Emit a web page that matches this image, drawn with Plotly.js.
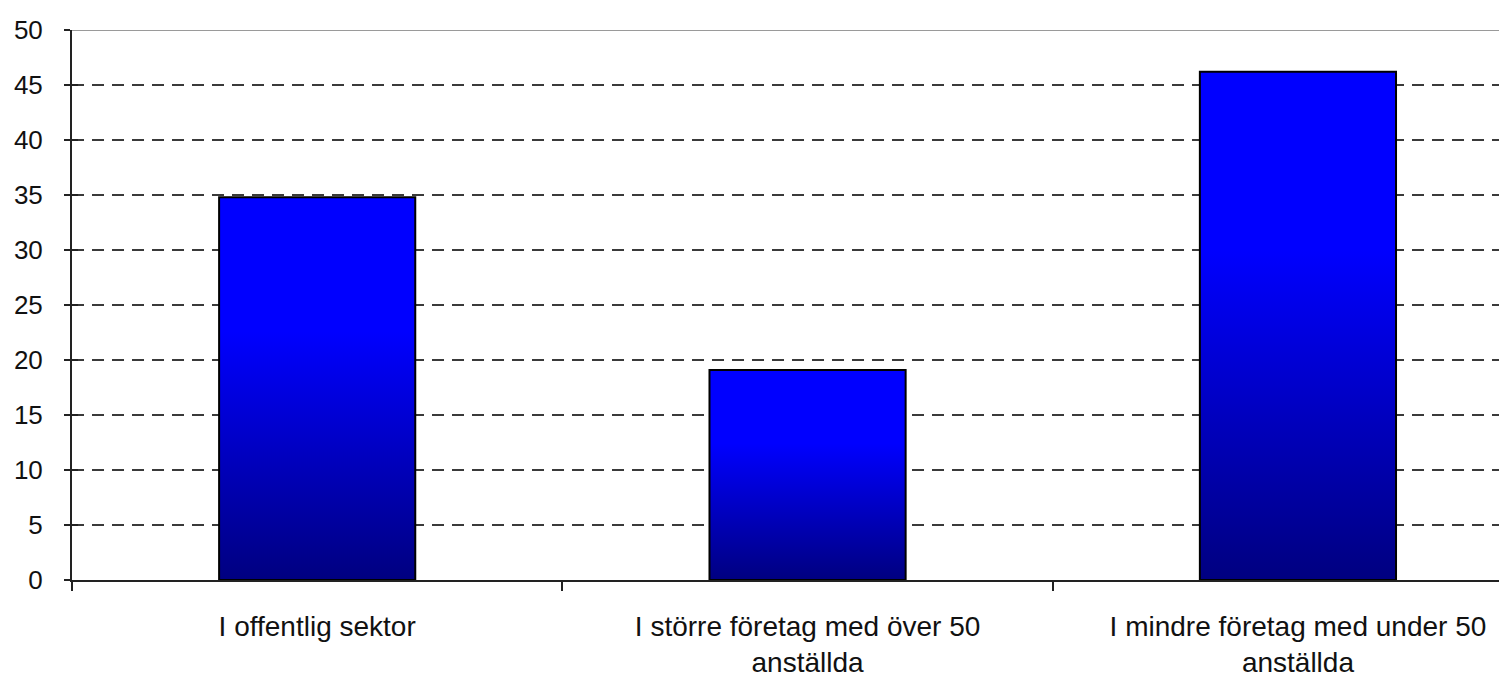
<!DOCTYPE html>
<html>
<head>
<meta charset="utf-8">
<script src="https://cdn.plot.ly/plotly-3.0.1.min.js"></script>
<style>html,body{margin:0;padding:0;background:#fff;}#chart{width:1499px;height:684px;}</style>
</head>
<body>
<div id="chart"></div>
<script>
// Data
const categories = ["I offentlig sektor", "I större företag med över 50<br>anställda", "I mindre företag med under 50<br>anställda"];
const values = [34.8, 19.1, 46.2];
const yTickVals = [0, 5, 10, 15, 20, 25, 30, 35, 40, 45, 50];

const barWidth = 0.40;
const xRange = [-0.5, 2.41];
const fontFam = "Liberation Sans, Arial, sans-serif";

const traces = [];
// gradient bars drawn as filled polygons in data coordinates derived from values
values.forEach(function (v, i) {
  const l = i - barWidth / 2, r = i + barWidth / 2;
  traces.push({
    type: "scatter",
    mode: "lines",
    x: [l, l, r, r, l],
    y: [0, v, v, 0, 0],
    fill: "toself",
    fillgradient: {
      type: "vertical",
      start: 0,
      stop: v,
      colorscale: [[0, "#000080"], [0.65, "#0000ff"], [1, "#0000ff"]]
    },
    line: { color: "#000000", width: 2 },
    hoverinfo: "skip",
    showlegend: false,
    xaxis: "x",
    yaxis: "y"
  });
});
// invisible traces to anchor the auxiliary tick axes
traces.push({
  type: "scatter", mode: "markers",
  x: [0, 1, 2], y: values,
  marker: { opacity: 0 }, hoverinfo: "skip", showlegend: false,
  xaxis: "x2", yaxis: "y"
});
traces.push({
  type: "scatter", mode: "markers",
  x: [0, 1, 2], y: values,
  marker: { opacity: 0 }, hoverinfo: "skip", showlegend: false,
  xaxis: "x", yaxis: "y2"
});

const layout = {
  width: 1499, height: 684,
  margin: { l: 72, r: 0, t: 30, b: 104 },
  paper_bgcolor: "#ffffff",
  plot_bgcolor: "#ffffff",
  showlegend: false,
  font: { family: fontFam, color: "#111111" },
  xaxis: {
    range: xRange,
    tickmode: "array",
    tickvals: [0, 1, 2],
    ticktext: categories,
    ticks: "",
    ticklabelstandoff: 20,
    showgrid: false,
    zeroline: false,
    showline: true,
    linecolor: "#222222",
    linewidth: 2,
    tickfont: { family: fontFam, size: 28, color: "#111111" },
    fixedrange: true
  },
  xaxis2: {
    overlaying: "x",
    anchor: "y",
    side: "bottom",
    range: xRange,
    tickmode: "array",
    tickvals: [-0.5, 0.5, 1.5, 2.5],
    ticktext: ["", "", "", ""],
    ticks: "outside",
    ticklen: 10,
    tickwidth: 2,
    tickcolor: "#222222",
    showgrid: false,
    zeroline: false,
    showline: false,
    fixedrange: true
  },
  yaxis: {
    range: [0, 50],
    tickmode: "array",
    tickvals: yTickVals,
    ticks: "outside",
    ticklen: 6,
    tickwidth: 2,
    tickcolor: "#222222",
    ticklabelstandoff: 16,
    showgrid: true,
    gridcolor: "#3a3a3a",
    gridwidth: 2.5,
    griddash: "12px,8px",
    zeroline: false,
    showline: true,
    linecolor: "#222222",
    linewidth: 2,
    tickfont: { family: fontFam, size: 26, color: "#111111" },
    fixedrange: true
  },
  yaxis2: {
    overlaying: "y",
    anchor: "x",
    side: "left",
    range: [0, 50],
    tickmode: "array",
    tickvals: yTickVals,
    ticktext: yTickVals.map(function () { return ""; }),
    ticks: "inside",
    ticklen: 6,
    tickwidth: 2,
    tickcolor: "#222222",
    showgrid: false,
    zeroline: false,
    showline: false,
    fixedrange: true
  },
  shapes: [{
    type: "line", xref: "paper", yref: "y",
    x0: 0, x1: 1, y0: 50, y1: 50,
    line: { color: "#ffffff", width: 4 },
    layer: "above"
  }, {
    type: "line", xref: "paper", yref: "y",
    x0: 0, x1: 1, y0: 50, y1: 50,
    line: { color: "#9a9a9a", width: 2 },
    layer: "above"
  }]
};

Plotly.newPlot("chart", traces, layout, { staticPlot: true, displayModeBar: false });
</script>
</body>
</html>
